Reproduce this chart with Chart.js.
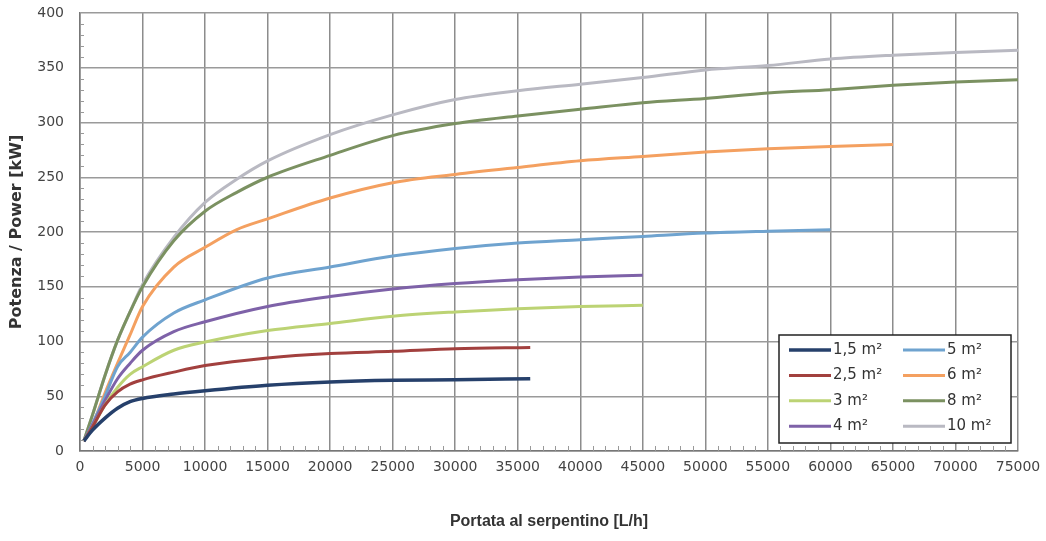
<!DOCTYPE html>
<html>
<head>
<meta charset="utf-8">
<script src="https://cdn.jsdelivr.net/npm/chart.js@4"></script>
<style>
  html, body { margin: 0; padding: 0; background: #fff; }
  #wrap { width: 1046px; height: 541px; }
</style>
</head>
<body>
<div id="wrap"><canvas id="chart" width="1046" height="541"></canvas></div>
<script>
// Portata [L/h] and potenza [kW], one pair per surface
const labels = ['1,5 m²', '2,5 m²', '3 m²', '4 m²', '5 m²', '6 m²', '8 m²', '10 m²'];
const colors = ['#26406b', '#a2403e', '#bcd374', '#7e62a8', '#6fa3cf', '#f4a060', '#7b9161', '#b9b9c2'];

const flowShort = [300, 1000, 2000, 3000, 4000, 5000, 7500, 10000, 15000, 20000, 25000, 30000, 36000];
const flowMid = [300, 1000, 2000, 3000, 4000, 5000, 7500, 10000, 15000, 20000, 25000, 30000, 35000, 40000, 45000];
const flow5 = [300, 1000, 2000, 3000, 4000, 5000, 7500, 10000, 15000, 20000, 25000, 30000, 35000, 40000, 45000, 50000, 55000, 60000];
const flow6 = [300, 1000, 2000, 3000, 4000, 5000, 7500, 10000, 12500, 15000, 20000, 25000, 30000, 35000, 40000, 45000, 50000, 55000, 60000, 65000];
const flowLong = [300, 1000, 2000, 3000, 4000, 5000, 7500, 10000, 12500, 15000, 20000, 25000, 30000, 35000, 40000, 45000, 50000, 55000, 60000, 65000, 70000, 75000];

const power15 = [9, 19, 30, 39, 45, 48, 52, 55, 60, 63, 64.5, 65, 66];
const power25 = [9, 22, 42, 54, 61, 65, 72, 78, 85, 89, 91, 93.4, 94.5];
const power3 = [9, 22, 42, 58, 70, 77, 92, 99.5, 110, 116.5, 123, 127, 130, 132, 133];
const power4 = [9, 24, 46, 66, 80, 92, 109, 118, 132, 141, 148, 153, 156.5, 159, 160.5];
const power5 = [9, 25, 50, 77, 90, 104, 126, 138, 158, 168, 178, 185, 190, 193, 196, 199, 200.7, 202];
const power6 = [9, 24, 53, 80, 106, 132, 168, 186, 202, 212, 231, 245, 252.6, 259, 265, 269, 273, 276, 278, 280];
const power8 = [9, 33, 69, 101, 127, 150, 192, 219, 236, 250, 270, 288, 299, 306, 312, 318, 322, 327, 330, 334, 337, 339];
const power10 = [9, 33, 69, 101, 127, 152, 195, 227, 248, 265, 289, 307, 321, 329, 335, 341, 348, 352, 358, 361.5, 364, 366];

const flows = [flowShort, flowShort, flowMid, flowMid, flow5, flow6, flowLong, flowLong];
const powers = [power15, power25, power3, power4, power5, power6, power8, power10];

const datasets = labels.map((lab, i) => ({
  label: lab,
  data: flows[i].map((f, j) => ({ x: f, y: powers[i][j] })),
  borderColor: colors[i],
  backgroundColor: colors[i],
  borderWidth: i === 0 ? 3.5 : 3,
  pointRadius: 0,
  cubicInterpolationMode: 'monotone',
  fill: false
}));

// minor tick marks along the two axes
const minorTicks = {
  id: 'minorTicks',
  afterDraw(chart) {
    const ctx = chart.ctx;
    const xs = chart.scales.x, ys = chart.scales.y;
    const area = chart.chartArea;
    ctx.save();
    ctx.strokeStyle = '#999';
    ctx.lineWidth = 1;
    ctx.beginPath();
    for (let v = 1000; v < 75000; v += 1000) {
      if (v % 5000 === 0) continue;
      const px = Math.round(xs.getPixelForValue(v)) + 0.5;
      ctx.moveTo(px, area.bottom);
      ctx.lineTo(px, area.bottom - 5);
    }
    for (let v = 10; v < 400; v += 10) {
      if (v % 50 === 0) continue;
      const py = Math.round(ys.getPixelForValue(v)) + 0.5;
      ctx.moveTo(area.left, py);
      ctx.lineTo(area.left + 4, py);
    }
    ctx.stroke();
    ctx.restore();
  }
};

// legend box inside the plot, two columns of four
const boxLegend = {
  id: 'boxLegend',
  afterDraw(chart) {
    const ctx = chart.ctx;
    const left = 779, top = 335, w = 232, h = 108;
    ctx.save();
    ctx.fillStyle = '#fff';
    ctx.fillRect(left, top, w, h);
    ctx.strokeStyle = '#222';
    ctx.lineWidth = 1.5;
    ctx.strokeRect(left, top, w, h);
    ctx.font = '15px "DejaVu Sans"';
    ctx.textBaseline = 'middle';
    ctx.fillStyle = '#333';
    chart.data.datasets.forEach((ds, i) => {
      const col = Math.floor(i / 4), row = i % 4;
      const x0 = left + 10 + col * 114;
      const y = top + 15 + row * 25.4;
      ctx.strokeStyle = ds.borderColor;
      ctx.lineWidth = ds.borderWidth;
      ctx.beginPath();
      ctx.moveTo(x0, y);
      ctx.lineTo(x0 + 42, y);
      ctx.stroke();
      ctx.fillText(ds.label, x0 + 44, y);
    });
    ctx.restore();
  }
};

new Chart(document.getElementById('chart'), {
  type: 'line',
  data: { datasets: datasets },
  options: {
    responsive: false,
    animation: false,
    layout: { padding: { left: 0, top: 13, right: 28, bottom: 0 } },
    plugins: { legend: { display: false }, tooltip: { enabled: false } },
    scales: {
      x: {
        type: 'linear',
        min: 0, max: 75000,
        afterFit(scale) { scale.height = 90; scale.paddingLeft = 0; scale.paddingRight = 0; },
        border: { color: '#777', width: 1.5 },
        grid: { color: '#8c8c8c', lineWidth: 1.5, drawTicks: false },
        ticks: {
          stepSize: 5000, maxRotation: 0, autoSkip: false, padding: 8,
          color: '#444', font: { family: 'DejaVu Sans', size: 14 },
          callback: v => String(v)
        },
        title: {
          display: true, text: 'Portata al serpentino [L/h]', color: '#333',
          font: { family: 'Liberation Sans', size: 16, weight: 'bold' },
          padding: { top: 0, bottom: 10 }
        }
      },
      y: {
        min: 0, max: 400,
        afterFit(scale) { scale.width = 80; scale.paddingTop = 0; scale.paddingBottom = 0; },
        border: { color: '#777', width: 1.5 },
        grid: { color: '#9a9a9a', lineWidth: 1.5, drawTicks: false },
        ticks: {
          stepSize: 50, padding: 16,
          color: '#444', font: { family: 'DejaVu Sans', size: 14 }
        },
        title: {
          display: true, text: 'Potenza / Power [kW]', color: '#333',
          font: { family: 'DejaVu Sans', size: 16, weight: 'bold' },
          padding: { top: 7, bottom: 0 }
        }
      }
    }
  },
  plugins: [minorTicks, boxLegend]
});
</script>
</body>
</html>
